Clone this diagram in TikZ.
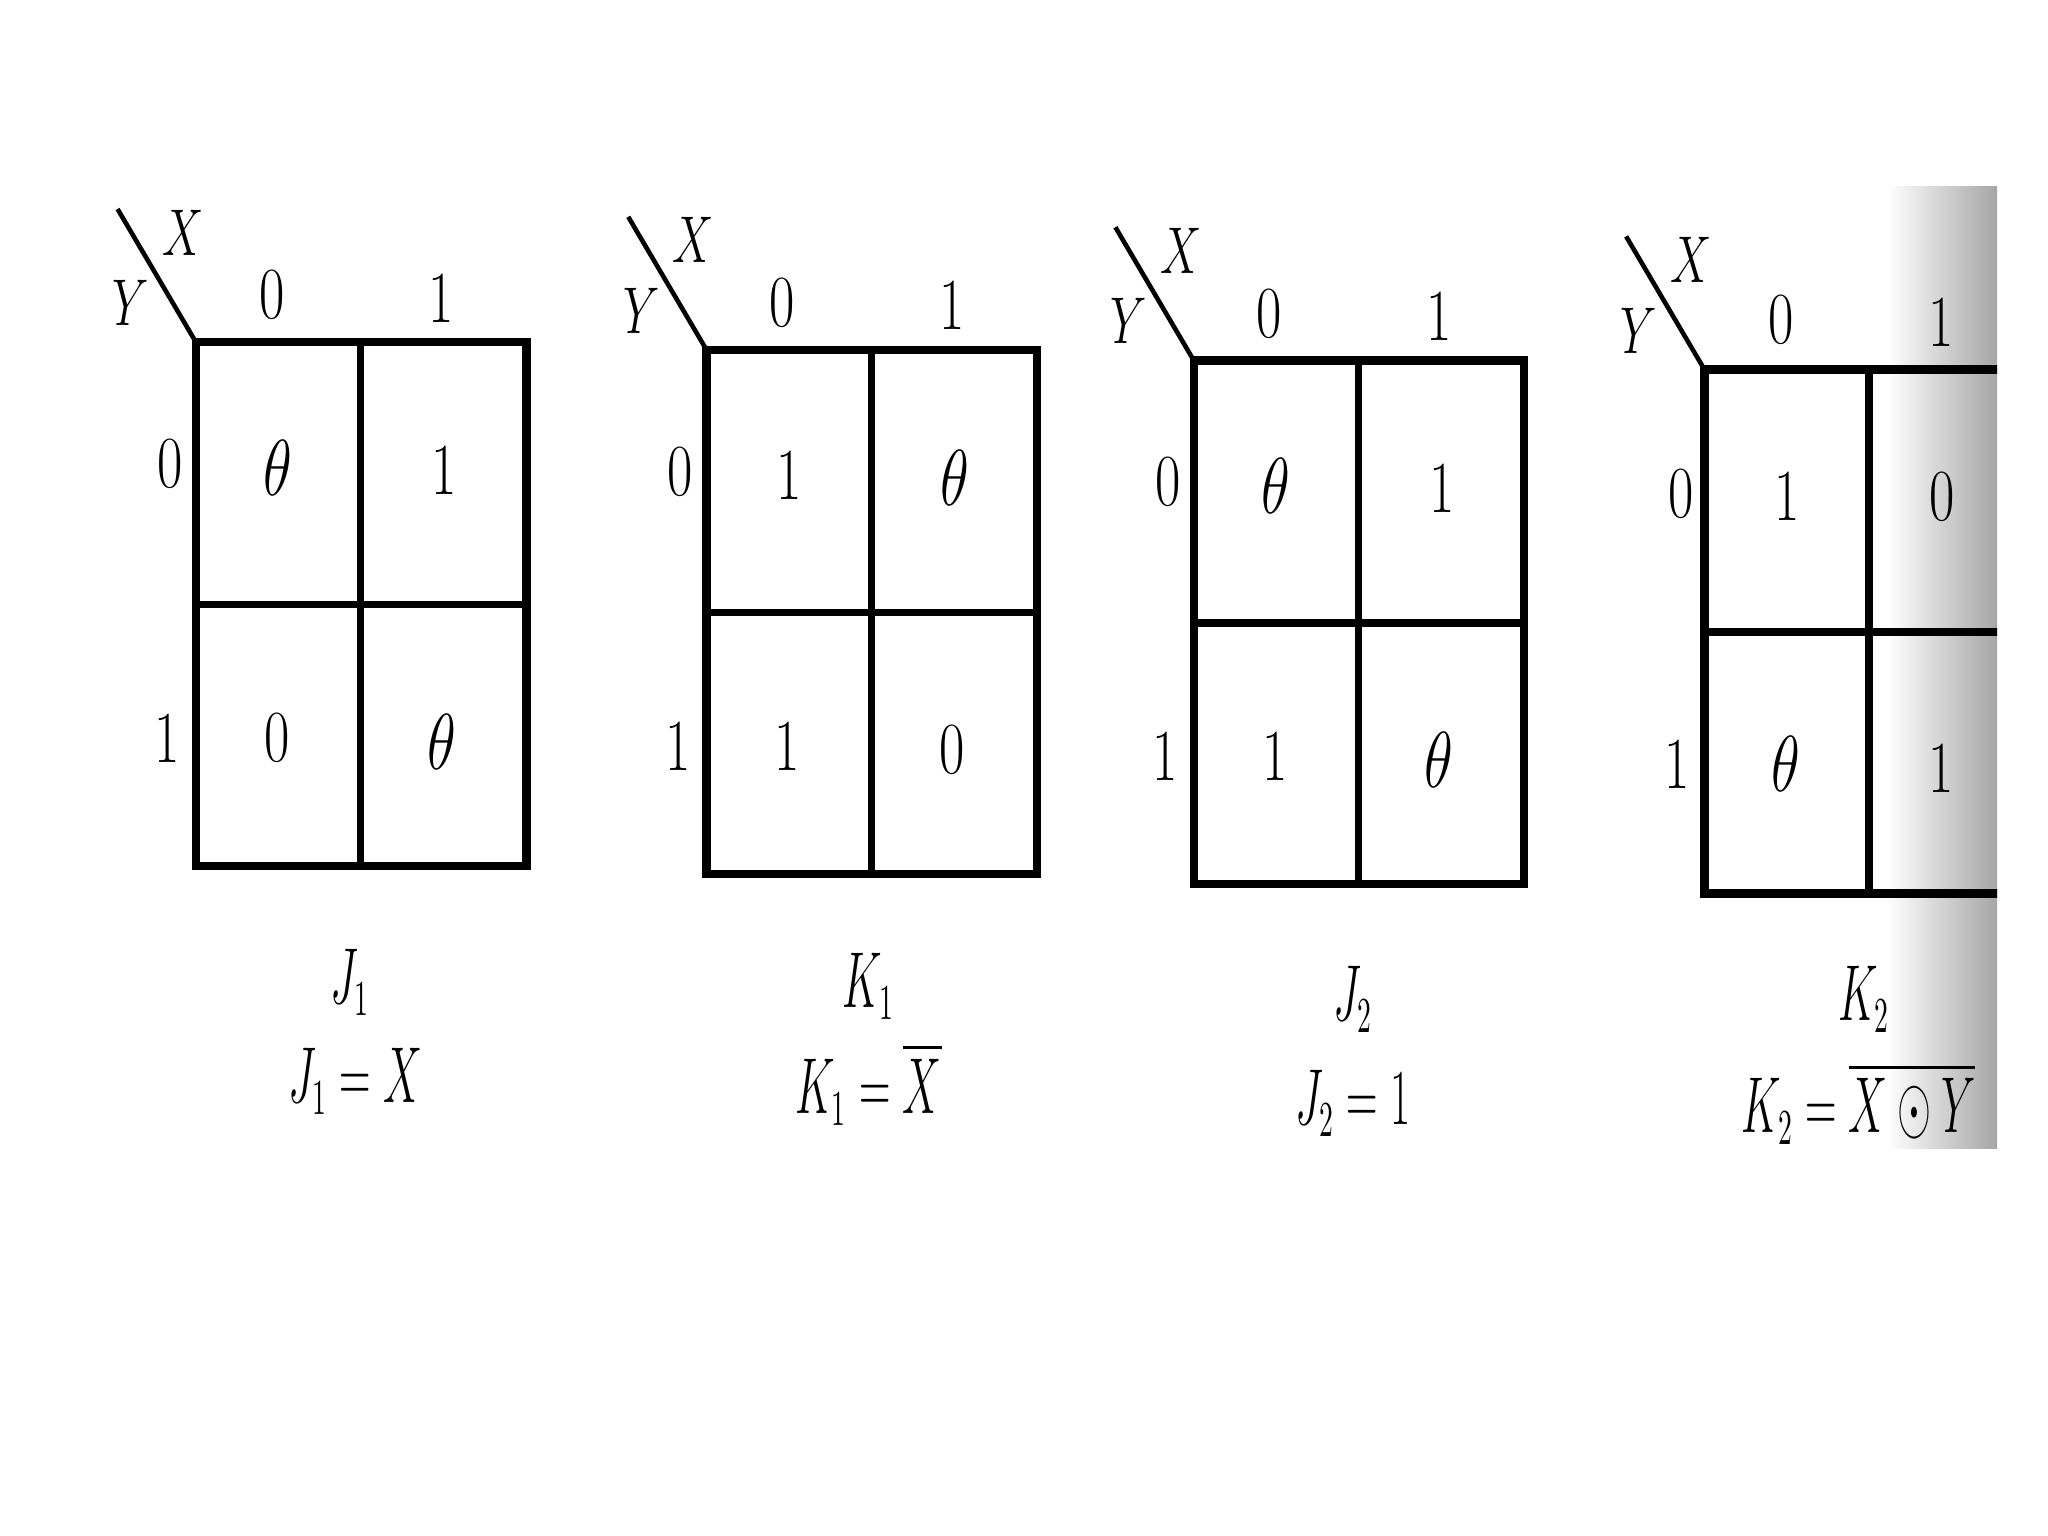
\documentclass[tikz,border=0pt]{standalone}
\usepackage{amsmath}
\usetikzlibrary{shadings}

\begin{document}
\begin{tikzpicture}[x=0.01cm,y=-0.01cm]
        \useasboundingbox (0,0) rectangle (1568,1176);
        \tikzset{
            kbox/.style={line width=1.8pt},
            kmid/.style={line width=1.6pt},
            kdiag/.style={line width=1pt},
            every node/.style={font=\fontsize{16}{18}\selectfont,inner sep=1pt},
            kdigit/.style={xscale=0.75},
            kvar/.style={font=\fontsize{14}{16}\selectfont,xscale=0.7},
            keq/.style={xscale=0.55}
        }
        % grey edge of the scanned page
        \shade[left color=white,right color=black!35] (1445,143) rectangle (1529,879);

        % map J1
        \begin{scope}[shift={(150,262)}]
            \draw[kbox] (0,0) rectangle (253,401);
            \draw[kmid] (126,0) -- (126,401);
            \draw[kmid] (0,201) -- (253,201);
            \coordinate (jaC) at (0,0);
            \coordinate (jaD) at (-60,-102);
            \draw[kdiag] (jaD) -- (jaC);
            \node[kvar] (jaX) at (-10,-84) {$X$};
            \node[kvar] (jaY) at (-50,-30) {$Y$};
            \node[kdigit] (jaX0) at (58,-36) {0};
            \node[kdigit] (jaX1) at (188,-34) {1};
            \node[kdigit] (jaY0) at (-20,93) {0};
            \node[kdigit] (jaY1) at (-22,303) {1};
            \node[kdigit] (ja00) at (63,96) {$\theta$};
            \node[kdigit] (ja01) at (190,98) {1};
            \node[kdigit] (ja10) at (62,303) {0};
            \node[kdigit] (ja11) at (188,306) {$\theta$};
            \node[keq] (jaT) at (118,490) {$J_1$};
            \node[keq] (jaE) at (122,566) {$J_1 = X$};
        \end{scope}

        % map K1
        \begin{scope}[shift={(541,268)}]
            \draw[kbox] (0,0) rectangle (253,401);
            \draw[kmid] (126,0) -- (126,401);
            \draw[kmid] (0,201) -- (253,201);
            \coordinate (kaC) at (0,0);
            \coordinate (kaD) at (-60,-102);
            \draw[kdiag] (kaD) -- (kaC);
            \node[kvar] (kaX) at (-10,-84) {$X$};
            \node[kvar] (kaY) at (-50,-30) {$Y$};
            \node[kdigit] (kaX0) at (58,-36) {0};
            \node[kdigit] (kaX1) at (188,-34) {1};
            \node[kdigit] (kaY0) at (-20,93) {0};
            \node[kdigit] (kaY1) at (-22,303) {1};
            \node[kdigit] (ka00) at (63,96) {1};
            \node[kdigit] (ka01) at (190,98) {$\theta$};
            \node[kdigit] (ka10) at (62,303) {1};
            \node[kdigit] (ka11) at (188,306) {0};
            \node[keq] (kaT) at (124,487) {$K_1$};
            \node[keq] (kaE) at (124,562) {$K_1 = \overline{X}$};
        \end{scope}

        % map J2
        \begin{scope}[shift={(914,276)}]
            \draw[kbox] (0,0) rectangle (253,401);
            \draw[kmid] (126,0) -- (126,401);
            \draw[kmid] (0,201) -- (253,201);
            \coordinate (jbC) at (0,0);
            \coordinate (jbD) at (-60,-102);
            \draw[kdiag] (jbD) -- (jbC);
            \node[kvar] (jbX) at (-10,-84) {$X$};
            \node[kvar] (jbY) at (-50,-30) {$Y$};
            \node[kdigit] (jbX0) at (58,-36) {0};
            \node[kdigit] (jbX1) at (188,-34) {1};
            \node[kdigit] (jbY0) at (-20,93) {0};
            \node[kdigit] (jbY1) at (-22,303) {1};
            \node[kdigit] (jb00) at (63,96) {$\theta$};
            \node[kdigit] (jb01) at (190,98) {1};
            \node[kdigit] (jb10) at (62,303) {1};
            \node[kdigit] (jb11) at (188,306) {$\theta$};
            \node[keq] (jbT) at (122,489) {$J_2$};
            \node[keq] (jbE) at (122,569) {$J_2 = 1$};
        \end{scope}

        % map K2 (cut off by the page edge)
        \begin{scope}[shift={(1305,283)}]
            \begin{scope}
                \clip (-100,-200) rectangle (224,450);
                \draw[kbox] (0,0) rectangle (253,401);
                \draw[kmid] (126,0) -- (126,401);
                \draw[kmid] (0,201) -- (253,201);
            \end{scope}
            \coordinate (kbC) at (0,0);
            \coordinate (kbD) at (-60,-102);
            \draw[kdiag] (kbD) -- (kbC);
            \node[kvar] (kbX) at (-10,-84) {$X$};
            \node[kvar] (kbY) at (-50,-30) {$Y$};
            \node[kdigit] (kbX0) at (59,-38) {0};
            \node[kdigit] (kbX1) at (181,-36) {1};
            \node[kdigit] (kbY0) at (-18,95) {0};
            \node[kdigit] (kbY1) at (-21,302) {1};
            \node[kdigit] (kb00) at (63,97) {1};
            \node[kdigit] (kb01) at (182,97) {0};
            \node[kdigit] (kb10) at (62,302) {$\theta$};
            \node[kdigit] (kb11) at (181,305) {1};
            \node[keq] (kbT) at (122,482) {$K_2$};
            \node[keq] (kbE) at (118,562) {$K_2 = \overline{X \odot Y}$};
        \end{scope}
    \end{tikzpicture}
\end{document}
